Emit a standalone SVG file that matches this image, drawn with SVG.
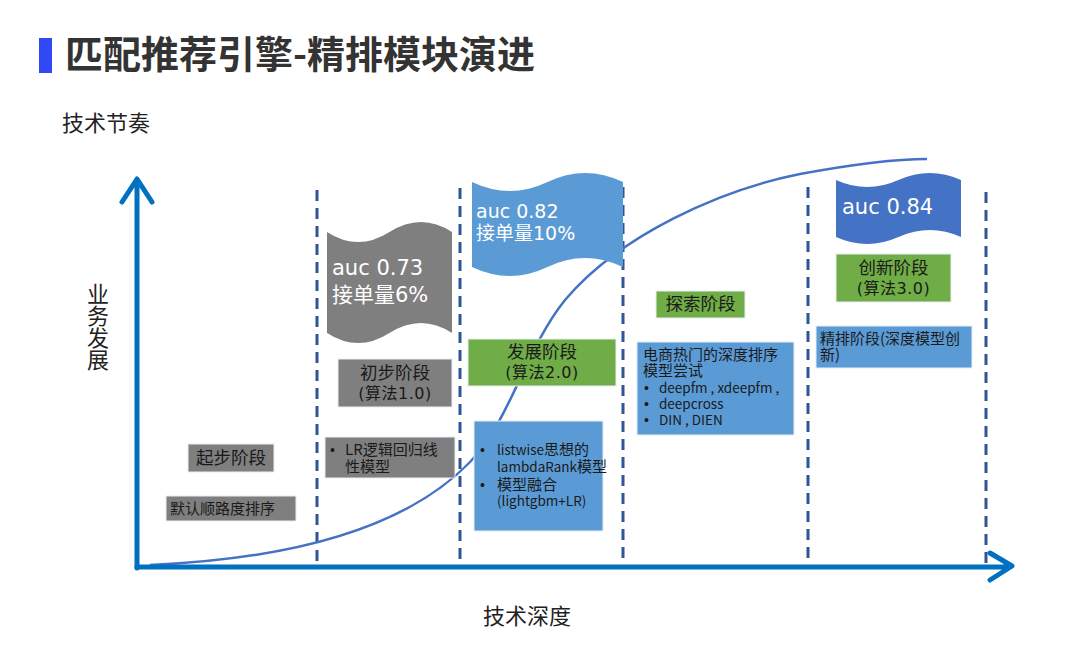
<svg xmlns="http://www.w3.org/2000/svg" width="1080" height="646" viewBox="0 0 1080 646">
<defs>
<style>
text{font-family:"Noto Sans CJK SC","Noto Sans",sans-serif;fill:#1a1a1a}
.title{font-size:38px;font-weight:700;fill:#333}
.lab{font-size:22px;fill:#222}
.stage{font-size:17.5px;text-anchor:middle}
.alg{font-family:"DejaVu Sans","Noto Sans CJK SC",sans-serif;font-size:16px;letter-spacing:0.5px}
.body{font-size:15px}
.lat{font-size:13.5px}
.bul{font-family:"Liberation Sans",sans-serif;font-size:14px}
.ban{font-family:"DejaVu Sans","Noto Sans CJK SC",sans-serif;fill:#fff}
.dash{stroke:#2F5597;stroke-width:3;stroke-dasharray:11 7;fill:none}
.axis{stroke:#0070C0;stroke-width:5;fill:none;stroke-linecap:round;stroke-linejoin:round}
.box{stroke:#e8eef6;stroke-width:1}
.gray{fill:#7F7F7F}
.green{fill:#70AD47}
.blue{fill:#5B9BD5}
.dblue{fill:#4472C4}
</style>
</defs>
<rect width="1080" height="646" fill="#fff"/>
<g id="title">
<rect x="39" y="38" width="13" height="35" fill="#3048F5"/>
<text class="title" x="65" y="68">匹配推荐引擎-精排模块演进</text>
</g>
<g id="axis-labels">
<text class="lab" x="62" y="131">技术节奏</text>
<text class="lab" x="483" y="624">技术深度</text>
<text class="lab" x="98" y="283" font-size="20" style="writing-mode:vertical-rl">业务发展</text>
</g>
<g id="connectors">
<line class="dash" x1="317" y1="190" x2="317" y2="565"/>
<line class="dash" x1="460" y1="188" x2="460" y2="565"/>
<line class="dash" x1="623" y1="187" x2="623" y2="565"/>
<line class="dash" x1="808" y1="187" x2="808" y2="565"/>
<line class="dash" x1="986" y1="192" x2="986" y2="565"/>
<path d="M150,565 Q380,555 470,462 C510,421 525,350 565,300 C620,235 720,190 800,174 C860,163 900,159 927,159" fill="none" stroke="#4472C4" stroke-width="2.5"/>
<path class="axis" d="M137,568 V180 M122,202 L137,179 L152,202"/>
<path class="axis" d="M137,567 H1010 M990,553 L1012,566 L990,580"/>
</g>
<g id="stage-start">
<rect class="box gray" x="188" y="444" width="86" height="28"/>
<text class="stage" x="231" y="464">起步阶段</text>
</g>
<g id="desc-start">
<rect class="box gray" x="166" y="496" width="130" height="25"/>
<text class="body" x="170" y="514">默认顺路度排序</text>
</g>
<g id="banner-073">
<path class="gray" d="M327,232 Q358,252 389.5,232 T452,232 V333 Q421,313 389.5,333 T327,333 Z"/>
<text class="ban" font-size="21"><tspan x="332" y="275">auc 0.73</tspan><tspan x="332" y="302">接单量6%</tspan></text>
</g>
<g id="stage-1">
<rect class="box gray" x="338" y="359" width="114" height="48"/>
<text class="stage"><tspan x="395" y="379">初步阶段</tspan><tspan class="alg" x="395" y="399">(算法1.0)</tspan></text>
</g>
<g id="desc-1">
<rect class="box gray" x="325" y="437" width="130" height="41"/>
<text class="body"><tspan class="bul" x="330" y="455">•</tspan><tspan x="345" y="455">LR逻辑回归线</tspan><tspan x="345" y="472">性模型</tspan></text>
</g>
<g id="banner-082">
<path class="blue" d="M472,182 Q510,200 547.5,182 T623,182 V267 Q585,249 547.5,267 T472,267 Z"/>
<text class="ban" font-size="19"><tspan x="476" y="218">auc 0.82</tspan><tspan x="476" y="240">接单量10%</tspan></text>
</g>
<g id="stage-2">
<rect class="box green" x="468" y="339" width="148" height="47"/>
<text class="stage"><tspan x="542" y="358">发展阶段</tspan><tspan class="alg" x="542" y="378">(算法2.0)</tspan></text>
</g>
<g id="desc-2">
<rect class="box blue" x="474" y="421" width="129" height="110"/>
<text class="body"><tspan class="bul" x="480" y="455">•</tspan><tspan x="497" y="455"><tspan class="lat">listwise</tspan>思想的</tspan><tspan x="497" y="472"><tspan class="lat">lambdaRank</tspan>模型</tspan><tspan class="bul" x="480" y="490">•</tspan><tspan x="497" y="490">模型融合</tspan><tspan class="lat" x="497" y="506">(lightgbm+LR)</tspan></text>
</g>
<g id="stage-explore">
<rect class="box green" x="656" y="291" width="89" height="27"/>
<text class="stage" x="700.5" y="310">探索阶段</text>
</g>
<g id="desc-explore">
<rect class="box blue" x="637" y="342" width="157" height="93"/>
<text class="body"><tspan x="643" y="360">电商热门的深度排序</tspan><tspan x="643" y="376">模型尝试</tspan><tspan class="bul" x="644" y="393">•</tspan><tspan class="lat" x="659" y="393">deepfm , xdeepfm ,</tspan><tspan class="bul" x="644" y="409">•</tspan><tspan class="lat" x="659" y="409">deepcross</tspan><tspan class="bul" x="644" y="425">•</tspan><tspan class="lat" x="659" y="425">DIN , DIEN</tspan></text>
</g>
<g id="banner-084">
<path class="dblue" d="M836,180 Q867,194 898.5,180 T961,180 V237 Q930,223 898.5,237 T836,237 Z"/>
<text class="ban" x="842" y="214" font-size="21">auc 0.84</text>
</g>
<g id="stage-3">
<rect class="box green" x="836" y="254" width="115" height="48"/>
<text class="stage"><tspan x="893.5" y="274">创新阶段</tspan><tspan class="alg" x="893.5" y="294">(算法3.0)</tspan></text>
</g>
<g id="desc-3">
<rect class="box blue" x="816" y="326" width="156" height="42"/>
<text class="body"><tspan x="820" y="344">精排阶段(深度模型创</tspan><tspan x="820" y="360">新)</tspan></text>
</g>
</svg>
